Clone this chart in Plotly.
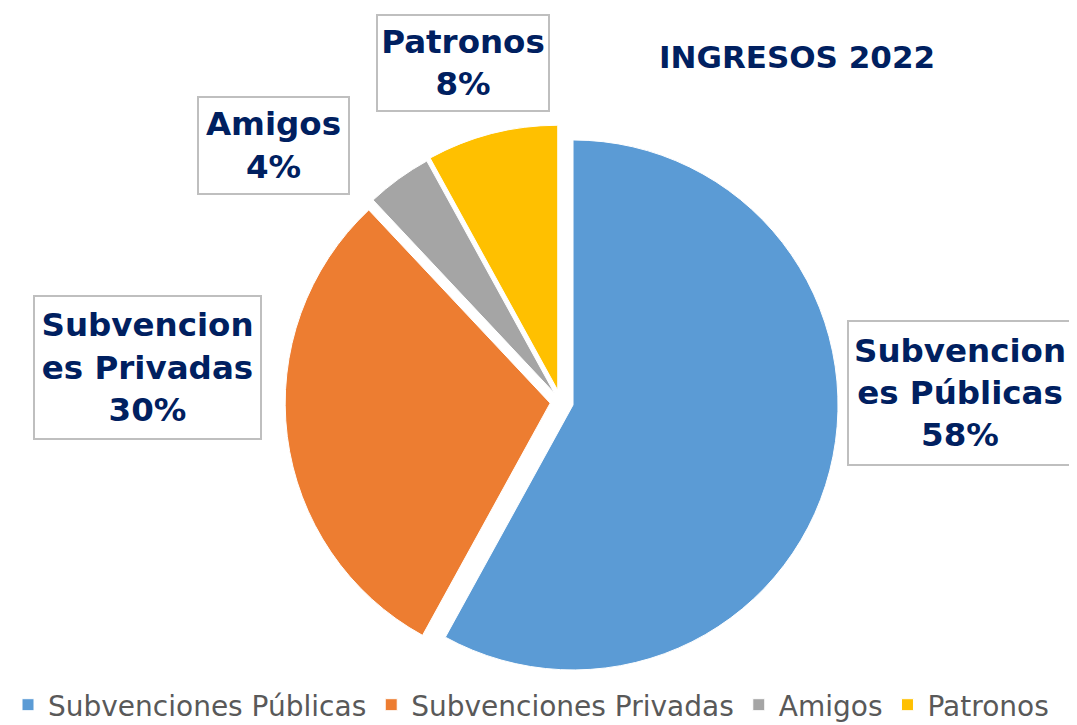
import plotly.graph_objects as go

categories = ["Subvenciones Públicas", "Subvenciones Privadas", "Amigos", "Patronos"]
values = [58, 30, 4, 8]
box_text = ["Subvencion<br>es Públicas", "Subvencion<br>es Privadas", "Amigos", "Patronos"]
colors = ["#5B9BD5", "#ED7D31", "#A5A5A5", "#FFC000"]
pulls = [0.048, 0.04, 0.04, 0.045]
title_text = "INGRESOS 2022"

# page body has an 8px margin; work in screen pixels and shift
OFF = 8
W, H = 1077 - OFF, 725 - OFF
NAVY = "#002060"
FONT = "DejaVu Sans"


def px(x):
    return (x - OFF) / W


def py(y):
    return 1 - (y - OFF) / H


# pie geometry (screen pixels)
cx, cy, r = 560.7, 401.8, 265
maxpull = max(pulls)
half = r * (1 + maxpull)
dom_y = [py(cy + half), py(cy - half)]
dom_x = [px(cx - 360), px(cx + 360)]

fig = go.Figure(go.Pie(
    labels=categories,
    values=values,
    sort=False,
    direction="clockwise",
    rotation=0,
    pull=pulls,
    marker=dict(colors=colors, line=dict(color="white", width=1)),
    textinfo="none",
    hoverinfo="label+percent",
    domain=dict(x=dom_x, y=dom_y),
))

# label boxes: (center x, center y, width, height) in screen px
boxes = [(960, 393, 226, 146), (147, 367, 229, 145), (273, 145, 153, 99), (463, 63, 174, 98)]
total = sum(values)
for t, v, (bx, by, bw, bh) in zip(box_text, values, boxes):
    fig.add_annotation(
        x=px(bx), y=py(by), xref="paper", yref="paper",
        xanchor="center", yanchor="middle",
        text=f"<b>{t}<br>{round(100 * v / total)}%</b>",
        showarrow=False,
        font=dict(family=FONT, size=32.5, color=NAVY),
        bordercolor="#BFBFBF", borderwidth=2, bgcolor="white",
        width=bw - 6, height=bh - 6, align="center",
    )

fig.update_layout(
    width=W, height=H,
    margin=dict(l=0, r=0, t=0, b=0, autoexpand=False),
    paper_bgcolor="white", plot_bgcolor="white",
    title=dict(text=f"<b>{title_text}</b>", x=px(797), y=py(57),
               xanchor="center", yanchor="middle",
               font=dict(family=FONT, size=31, color=NAVY)),
    showlegend=True,
    legend=dict(orientation="h", x=0.0, xanchor="left",
                y=py(705), yanchor="middle",
                font=dict(family=FONT, size=28, color="#595959"),
                itemwidth=30, tracegroupgap=0),
)

fig.write_html("out.html")
